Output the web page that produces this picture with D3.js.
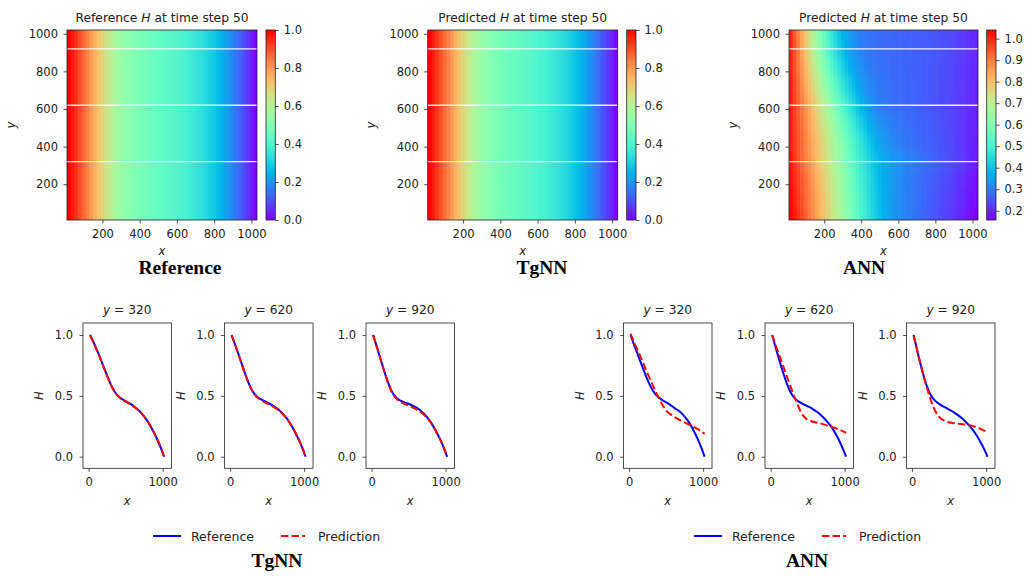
<!DOCTYPE html>
<html><head><meta charset="utf-8">
<script src="https://cdn.jsdelivr.net/npm/d3@7"></script>
<style>
body{margin:0;background:#fff}
text{font-family:"DejaVu Sans",sans-serif;fill:#222}
</style>
</head><body>
<svg id="c" width="1029" height="576"></svg>
<script>
// ---------------- data ----------------
const cellX = [20,40,60,80,100,120,140,160,180,200,220,240,260,280,300,320,340,360,380,400,420,440,460,480,500,520,540,560,580,600,620,640,660,680,700,720,740,760,780,800,820,840,860,880,900,920,940,960,980,1000,1020];
const heatTicks = [200,400,600,800,1000];
const cutY = [320,620,920];
const cbTicksA = [0,0.2,0.4,0.6,0.8,1.0];
const cbTicksB = [0.2,0.3,0.4,0.5,0.6,0.7,0.8,0.9,1.0];

const refH = [1.000,0.968,0.935,0.901,0.866,0.830,0.794,0.758,0.722,0.687,0.653,0.621,0.593,0.569,0.549,0.533,0.520,0.508,0.497,0.487,0.478,0.470,0.462,0.455,0.448,0.441,0.434,0.427,0.420,0.412,0.403,0.394,0.384,0.373,0.361,0.348,0.334,0.319,0.302,0.284,0.265,0.244,0.222,0.199,0.175,0.150,0.124,0.096,0.067,0.035,0.000];
const tgnnH = [1.000,0.967,0.933,0.899,0.864,0.828,0.792,0.756,0.720,0.685,0.651,0.619,0.590,0.566,0.546,0.529,0.515,0.502,0.491,0.481,0.472,0.464,0.456,0.449,0.442,0.435,0.428,0.421,0.414,0.406,0.398,0.389,0.379,0.368,0.357,0.344,0.331,0.316,0.300,0.282,0.263,0.243,0.221,0.198,0.174,0.149,0.123,0.096,0.067,0.036,0.002];

const annY = [20,120,220,320,420,520,620,720,820,920,1020];
const annRow20  = [1.040,1.013,.986,.959,.932,.904,.876,.848,.820,.792,.764,.736,.708,.680,.652,.624,.596,.568,.540,.513,.487,.462,.438,.415,.394,.376,.360,.346,.334,.324,.315,.307,.299,.292,.285,.278,.271,.264,.257,.250,.243,.236,.229,.221,.213,.205,.196,.187,.177,.167,.157];
const annRow120 = [1.030,1.004,.977,.950,.923,.896,.869,.841,.813,.785,.757,.729,.701,.673,.645,.617,.589,.561,.534,.507,.481,.456,.432,.410,.390,.372,.357,.344,.333,.323,.315,.307,.300,.293,.286,.280,.274,.267,.261,.254,.248,.241,.234,.227,.219,.211,.203,.194,.185,.175,.165];
const annRow220 = [1.020,.994,.967,.940,.913,.886,.859,.831,.803,.775,.747,.719,.691,.663,.635,.607,.579,.551,.524,.498,.472,.448,.425,.404,.385,.368,.354,.342,.332,.323,.315,.308,.301,.294,.288,.282,.276,.270,.264,.258,.252,.246,.239,.232,.225,.217,.209,.200,.191,.181,.171];
const annRow320 = [1.010,.980,.950,.922,.895,.868,.840,.812,.784,.756,.727,.698,.670,.642,.614,.587,.560,.534,.508,.484,.461,.438,.416,.397,.381,.368,.357,.348,.340,.332,.324,.317,.310,.303,.297,.291,.285,.279,.273,.267,.261,.255,.249,.243,.236,.229,.222,.214,.206,.197,.188];
const annRow420 = [1.000,.973,.946,.918,.890,.862,.834,.806,.777,.748,.719,.690,.661,.632,.603,.574,.546,.518,.491,.465,.440,.416,.394,.374,.357,.343,.332,.322,.314,.307,.301,.296,.291,.286,.281,.277,.272,.268,.263,.258,.254,.249,.244,.238,.232,.226,.219,.212,.205,.197,.189];
const annRow520 = [1.000,.970,.940,.910,.879,.848,.817,.786,.755,.724,.693,.662,.631,.600,.569,.539,.509,.480,.452,.425,.400,.378,.359,.343,.330,.320,.312,.305,.299,.294,.290,.286,.282,.278,.275,.271,.267,.263,.259,.255,.251,.246,.241,.236,.231,.225,.219,.213,.206,.199,.192];
const annRow620 = [1.000,.966,.932,.898,.864,.830,.796,.762,.728,.694,.660,.626,.593,.560,.528,.497,.466,.436,.406,.379,.356,.338,.324,.313,.305,.299,.294,.290,.287,.284,.281,.278,.275,.272,.269,.266,.262,.258,.254,.250,.246,.242,.238,.234,.229,.224,.219,.214,.209,.203,.197];
const annRow720 = [1.000,.958,.917,.877,.837,.797,.758,.720,.682,.645,.609,.574,.540,.507,.476,.446,.418,.392,.369,.349,.333,.320,.310,.302,.296,.291,.287,.284,.281,.278,.276,.274,.271,.269,.267,.264,.261,.258,.255,.252,.248,.244,.240,.236,.231,.226,.221,.215,.209,.203,.197];
const annRow820 = [.995,.950,.905,.861,.817,.774,.731,.689,.648,.608,.569,.531,.495,.461,.429,.400,.375,.354,.337,.323,.312,.304,.297,.292,.288,.285,.282,.279,.277,.275,.273,.271,.269,.267,.265,.263,.261,.258,.255,.252,.249,.245,.241,.237,.232,.227,.222,.216,.210,.204,.198];
const annRow920 = [.995,.945,.895,.845,.795,.747,.700,.654,.610,.567,.527,.489,.453,.420,.392,.368,.348,.332,.319,.309,.301,.295,.290,.286,.283,.280,.278,.276,.274,.273,.272,.270,.269,.267,.266,.264,.262,.260,.258,.255,.252,.248,.244,.240,.235,.230,.225,.219,.213,.207,.201];
const annRow1020= [.990,.938,.886,.835,.785,.736,.688,.641,.596,.553,.512,.474,.439,.407,.380,.357,.338,.323,.311,.302,.295,.289,.285,.281,.278,.276,.274,.272,.271,.269,.268,.267,.265,.264,.262,.260,.258,.256,.254,.251,.248,.245,.241,.237,.233,.228,.223,.218,.212,.206,.200];
const annRows = [annRow20,annRow120,annRow220,annRow320,annRow420,annRow520,annRow620,annRow720,annRow820,annRow920,annRow1020];

const lineX = [20,70,120,170,220,270,320,370,420,470,520,570,620,670,720,770,820,870,920,970,1020];
const ref320  = [1.0,0.935,0.865,0.790,0.712,0.635,0.568,0.518,0.487,0.467,0.450,0.432,0.411,0.386,0.354,0.315,0.268,0.213,0.152,0.082,0.0];
const ref620  = [1.0,0.918,0.830,0.740,0.653,0.578,0.523,0.491,0.471,0.456,0.441,0.424,0.403,0.379,0.348,0.311,0.265,0.211,0.150,0.082,0.0];
const ref920  = [1.0,0.905,0.805,0.705,0.613,0.540,0.494,0.468,0.453,0.441,0.429,0.415,0.397,0.374,0.345,0.309,0.264,0.210,0.150,0.082,0.0];
const tgnn320 = [1.0,0.933,0.862,0.788,0.711,0.636,0.569,0.518,0.486,0.464,0.446,0.428,0.408,0.383,0.352,0.314,0.268,0.214,0.154,0.085,0.003];
const tgnn620 = [1.0,0.915,0.828,0.739,0.653,0.576,0.519,0.486,0.463,0.447,0.432,0.416,0.397,0.374,0.345,0.309,0.265,0.212,0.152,0.084,0.002];
const tgnn920 = [1.0,0.903,0.803,0.704,0.611,0.535,0.487,0.457,0.440,0.427,0.414,0.400,0.384,0.364,0.338,0.305,0.262,0.210,0.151,0.084,0.002];
const annRef320 = [1.0,0.915,0.835,0.755,0.675,0.603,0.545,0.505,0.478,0.458,0.440,0.420,0.398,0.378,0.350,0.315,0.272,0.218,0.155,0.083,0.0];
const annRef620 = [1.0,0.895,0.790,0.690,0.600,0.530,0.484,0.457,0.439,0.424,0.409,0.392,0.372,0.348,0.318,0.284,0.248,0.198,0.142,0.075,0.0];
const annRef920 = [1.0,0.870,0.745,0.635,0.548,0.490,0.455,0.432,0.414,0.398,0.381,0.363,0.342,0.318,0.290,0.258,0.220,0.176,0.125,0.067,0.0];
const lineXTicks = [0,1000];
const lineYTicks = [0,0.5,1.0];

// ---------------- helpers ----------------
const svg = d3.select('#c');
const defs = svg.append('defs');
const FS = 11.5, TFS = 12.3, LFS = 12.5;
const SERIF = '"Liberation Serif","Times New Roman",serif';
function rainbow(t){
  t = Math.max(0, Math.min(1, t));
  const r = Math.min(1, Math.abs(2*t-0.5)), g = Math.sin(Math.PI*t), b = Math.cos(Math.PI*t/2);
  return d3.rgb(r*255, g*255, b*255).toString();
}
function styleAxis(g){
  g.select('.domain').remove();
  g.selectAll('.tick line').attr('stroke','#222').attr('stroke-width',0.8);
  g.selectAll('.tick text').attr('font-size',FS).style('font-family','"DejaVu Sans",sans-serif').attr('fill','#222');
}
defs.append('filter').attr('id','vblur').attr('x',-0.05).attr('y',-0.5).attr('width',1.1).attr('height',2)
  .append('feGaussianBlur').attr('stdDeviation','0 6');
let clipId = 0;
function heatmap(o){
  const xs = d3.scaleLinear().domain([10,1030]).range([o.x0,o.x1]);
  const ys = d3.scaleLinear().domain([10,1020]).range([220,30]);
  const color = d3.scaleSequential(rainbow).domain(o.domain);
  const id = 'clip'+(clipId++);
  defs.append('clipPath').attr('id',id).append('rect')
    .attr('x',o.x0).attr('y',30).attr('width',o.x1-o.x0).attr('height',190);
  const outer = svg.append('g').attr('clip-path',`url(#${id})`);
  const g = outer.append('g');
  if (o.smooth) g.attr('filter','url(#vblur)');
  o.rows.forEach(r=>{
    g.append('g').selectAll('rect').data(r.vals).join('rect')
      .attr('x',(d,i)=>xs(cellX[i]-10))
      .attr('width',(d,i)=>xs(cellX[i]+10)-xs(cellX[i]-10)+0.6)
      .attr('y',ys(r.y1)).attr('height',ys(r.y0)-ys(r.y1)+0.6)
      .attr('fill',d=>color(d));
  });
  outer.selectAll('line.cut').data(cutY).join('line')
    .attr('x1',o.x0).attr('x2',o.x1).attr('y1',d=>ys(d)).attr('y2',d=>ys(d))
    .attr('stroke','#fff').attr('stroke-width',1.3).attr('stroke-opacity',0.9);
  svg.append('rect').attr('x',o.x0).attr('y',30).attr('width',o.x1-o.x0).attr('height',190)
    .attr('fill','none').attr('stroke','#222').attr('stroke-width',0.8);
  svg.append('g').attr('transform','translate(0,220)')
    .call(d3.axisBottom(xs).tickValues(heatTicks).tickFormat(d3.format('d')).tickSize(3.5).tickPadding(6)).call(styleAxis);
  svg.append('g').attr('transform',`translate(${o.x0},0)`)
    .call(d3.axisLeft(ys).tickValues(heatTicks).tickFormat(d3.format('d')).tickSize(3.5).tickPadding(5.5)).call(styleAxis);
  const t = svg.append('text').attr('x',(o.x0+o.x1)/2).attr('y',22).attr('text-anchor','middle').attr('font-size',TFS);
  t.append('tspan').text(o.title[0]+' ');
  t.append('tspan').attr('font-style','italic').text('H');
  t.append('tspan').text(' '+o.title[1]);
  svg.append('text').attr('x',(o.x0+o.x1)/2).attr('y',255).attr('text-anchor','middle')
    .attr('font-size',FS).attr('font-style','italic').text('x');
  svg.append('text').attr('transform',`translate(${o.x0-52.5},125) rotate(-90)`).attr('text-anchor','middle')
    .attr('font-size',FS).attr('font-style','italic').text('y');
  // colorbar
  const gid = 'grad'+clipId;
  const grad = defs.append('linearGradient').attr('id',gid).attr('x1',0).attr('x2',0).attr('y1',1).attr('y2',0);
  grad.selectAll('stop').data(d3.range(0,1.0001,0.025)).join('stop')
    .attr('offset',d=>d).attr('stop-color',d=>rainbow(d));
  const cs = d3.scaleLinear().domain(o.domain).range([220,30]);
  svg.append('rect').attr('x',o.cb).attr('y',30).attr('width',9.3).attr('height',190)
    .attr('fill',`url(#${gid})`).attr('stroke','#222').attr('stroke-width',0.8);
  svg.append('g').attr('transform',`translate(${o.cb+9.3},0)`)
    .call(d3.axisRight(cs).tickValues(o.cbTicks).tickFormat(d3.format('.1f')).tickSize(3.5).tickPadding(5)).call(styleAxis);
  svg.append('text').attr('x',o.label[0]).attr('y',274).attr('text-anchor','middle')
    .style('font-family',SERIF).attr('font-weight','bold')
    .attr('font-size',19.5).style('fill','#000').text(o.label[1]);
}

heatmap({x0:67,x1:257,cb:266,domain:[0,1],cbTicks:cbTicksA,title:['Reference','at time step 50'],
  rows:[{y0:10,y1:1020,vals:refH}],label:[180,'Reference']});
heatmap({x0:427.7,x1:617.7,cb:626.7,domain:[0,1],cbTicks:cbTicksA,title:['Predicted','at time step 50'],
  rows:[{y0:10,y1:1020,vals:tgnnH}],label:[542,'TgNN']});
const annAll = annRows.flat();
heatmap({x0:789,x1:978,cb:986.7,domain:d3.extent(annAll),cbTicks:cbTicksB,title:['Predicted','at time step 50'],
  smooth:true,
  rows:annY.map((y,i)=>({y0:(i===0?-300:y-50),y1:(i===annY.length-1?1300:y+50),vals:annRows[i]})),label:[864,'ANN']});

// ---------------- line panels ----------------
const PT=323, PB=468.3, PW=88.5;
function panel(x0, yVal, refX, refV, predX, predV){
  const xs = d3.scaleLinear().domain([-75.7,1120]).range([x0,x0+PW]);
  const ys = d3.scaleLinear().domain([-0.095,1.099]).range([PB,PT]);
  const id='clip'+(clipId++);
  defs.append('clipPath').attr('id',id).append('rect').attr('x',x0).attr('y',PT).attr('width',PW).attr('height',PB-PT);
  const g = svg.append('g').attr('clip-path',`url(#${id})`);
  const line = d3.line().curve(d3.curveMonotoneX);
  g.append('path').attr('d',line(refV.map((v,i)=>[xs(refX[i]),ys(v)])))
    .attr('fill','none').attr('stroke','#0000ff').attr('stroke-width',2);
  g.append('path').attr('d',line(predV.map((v,i)=>[xs(predX[i]),ys(v)])))
    .attr('fill','none').attr('stroke','#ff0000').attr('stroke-width',2).attr('stroke-dasharray','7.4,3.2');
  svg.append('rect').attr('x',x0).attr('y',PT).attr('width',PW).attr('height',PB-PT)
    .attr('fill','none').attr('stroke','#222').attr('stroke-width',0.8);
  svg.append('g').attr('transform',`translate(0,${PB})`)
    .call(d3.axisBottom(xs).tickValues(lineXTicks).tickFormat(d3.format('d')).tickSize(3.5).tickPadding(6)).call(styleAxis);
  svg.append('g').attr('transform',`translate(${x0},0)`)
    .call(d3.axisLeft(ys).tickValues(lineYTicks).tickFormat(d3.format('.1f')).tickSize(3.5).tickPadding(6.5)).call(styleAxis);
  const t = svg.append('text').attr('x',x0+PW/2).attr('y',314).attr('text-anchor','middle').attr('font-size',12.2);
  t.append('tspan').attr('font-style','italic').text('y');
  t.append('tspan').text(' = '+yVal);
  svg.append('text').attr('x',x0+PW/2).attr('y',505).attr('text-anchor','middle')
    .attr('font-size',FS).attr('font-style','italic').text('x');
  svg.append('text').attr('transform',`translate(${x0-40},${(PT+PB)/2}) rotate(-90)`).attr('text-anchor','middle')
    .attr('font-size',FS).attr('font-style','italic').text('H');
}
const tgLeft=[83,224.5,366], annLeft=[623.5,765,906.5];
panel(tgLeft[0],320,lineX,ref320,lineX,tgnn320);
panel(tgLeft[1],620,lineX,ref620,lineX,tgnn620);
panel(tgLeft[2],920,lineX,ref920,lineX,tgnn920);
panel(annLeft[0],320,lineX,annRef320,cellX,annRow320);
panel(annLeft[1],620,lineX,annRef620,cellX,annRow620);
panel(annLeft[2],920,lineX,annRef920,cellX,annRow920);

function legend(x, label){
  const y=536;
  svg.append('line').attr('x1',x).attr('x2',x+28).attr('y1',y).attr('y2',y).attr('stroke','#0000ff').attr('stroke-width',2);
  svg.append('text').attr('x',x+38).attr('y',y+4.5).attr('font-size',LFS).text('Reference');
  svg.append('line').attr('x1',x+128).attr('x2',x+152).attr('y1',y).attr('y2',y).attr('stroke','#ff0000').attr('stroke-width',2).attr('stroke-dasharray','7.4,3.2');
  svg.append('text').attr('x',x+165).attr('y',y+4.5).attr('font-size',LFS).text('Prediction');
  svg.append('text').attr('x',label[0]).attr('y',567).attr('text-anchor','middle')
    .style('font-family',SERIF).attr('font-weight','bold')
    .attr('font-size',19.5).style('fill','#000').text(label[1]);
}
legend(153,[277,'TgNN']);
legend(694,[807,'ANN']);
</script>
</body></html>
